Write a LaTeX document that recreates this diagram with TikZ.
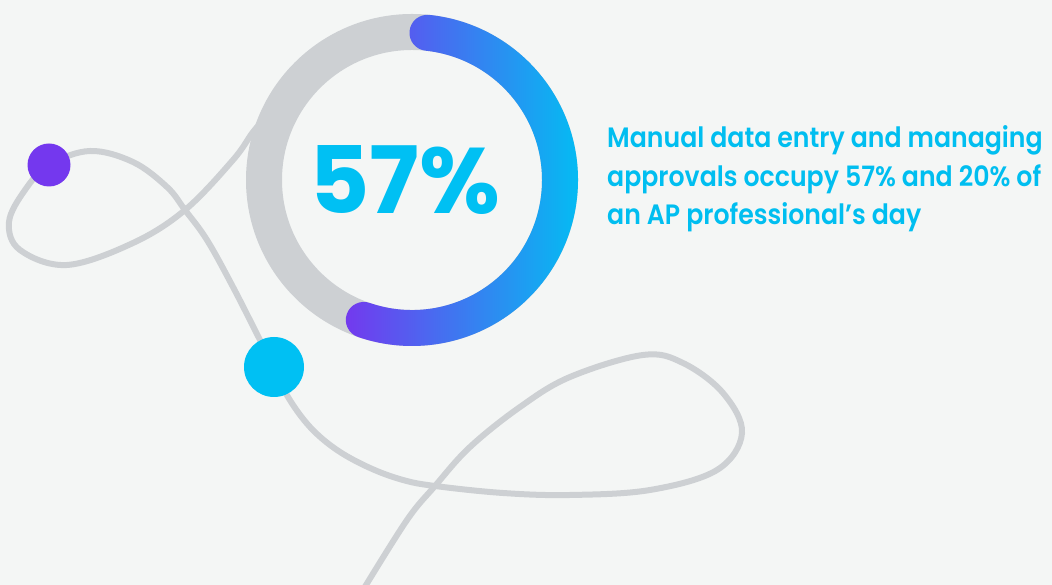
\documentclass[tikz,border=0pt]{standalone}
\usepackage{fontspec}
\setmainfont{Poppins}
\newfontfamily\statfont{Poppins}
\newfontfamily\blurbfont[FakeStretch=0.9]{Poppins SemiBold}
\definecolor{ringgray}{RGB}{205, 208, 211}
\definecolor{pagewhite}{RGB}{244, 246, 245}
\definecolor{arcpurple}{RGB}{116, 56, 238}
\definecolor{arccyan}{RGB}{0, 192, 243}
\definecolor{textcyan}{RGB}{0, 190, 240}
\usetikzlibrary{calc,positioning}

\begin{document}
\begin{tikzpicture}[x=1pt, y=1pt, every node/.style={inner sep=0pt},
    bead/.style={circle, minimum size=#1},
    blurb/.style={anchor=base west, text=textcyan, font=\fontsize{28}{38}\blurbfont}]
    \fill[pagewhite] (0,0) rectangle (1052,585);
    \useasboundingbox (0,0) rectangle (1052,585);

    % thread behind everything
    \draw[ringgray, line width=6pt, line cap=round] plot[smooth, tension=0.6] coordinates {
        (363,-5) (407,65) (435,99) (470,138) (520,178) (570,208) (643,230) (683,222)
        (723,192) (742,152) (717,115) (650,95) (570,90) (503,92) (435,99) (403,105)
        (370,117) (337,135) (310,158) (288,188) (274,218) (260,245) (233,298) (207,345)
        (185,375) (167,398) (133,423) (90,434) (49,420) (25,395) (9,363) (20,335)
        (67,320) (133,342) (185,375) (233,425) (253,453) (268,470)};

    % ring
    \coordinate (c) at (412,405);
    \draw[ringgray, line width=36pt] (c) circle[radius=148];
    \shade[left color=arcpurple, right color=arccyan]
        ($(c)+(84:166)$) arc[start angle=84, end angle=-109, radius=166]
        arc[start angle=-109, end angle=-289, radius=18]
        arc[start angle=-109, end angle=84, radius=130]
        arc[start angle=264, end angle=84, radius=18] -- cycle;
    \node[text=arccyan, font=\fontsize{93}{93}\statfont\bfseries] (pct) at (405,405) {57\%};

    \node[bead=43pt, fill=arcpurple] (purpledot) at (49,420) {};
    \node[bead=60pt, fill=arccyan] (cyandot) at (274,218) {};

    \node[blurb] (line1) at (607,437) {Manual data entry and managing};
    \node[blurb] (line2) at ([yshift=-38.5pt]line1.base west) {approvals occupy 57\% and 20\% of};
    \node[blurb] (line3) at ([yshift=-38.5pt]line2.base west) {an AP professional’s day};
\end{tikzpicture}
\end{document}
